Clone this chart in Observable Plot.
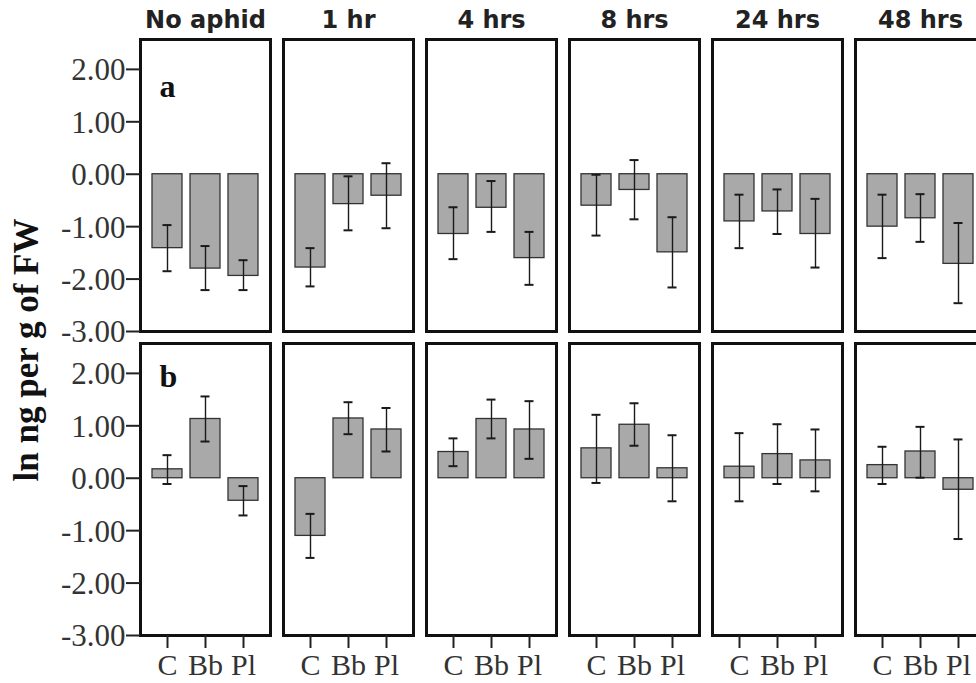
<!DOCTYPE html>
<html>
<head>
<meta charset="utf-8">
<script src="https://cdn.jsdelivr.net/npm/d3@7"></script>
<script src="https://cdn.jsdelivr.net/npm/@observablehq/plot@0.6"></script>
<style>
  html, body { margin: 0; padding: 0; background: #fff; overflow: hidden; width: 976px; height: 683px; }
  #chart { position: relative; width: 976px; height: 683px; overflow: hidden; }
  #chart svg { max-width: none !important; width: 990px !important; height: 683px !important; display: block; }
</style>
</head>
<body>
<div id="chart"></div>
<script>
// Facet columns (time after aphid exposure), treatments, rows
const times = ["No aphid", "1 hr", "4 hrs", "8 hrs", "24 hrs", "48 hrs"];
const treatments = ["C", "Bb", "Pl"];
const rows = ["a", "b"];
const yTicks = [-3, -2, -1, 0, 1, 2];
const yLabel = "ln ng per g of FW";

// Row a: means and error-bar ends, ordered time x treatment (C, Bb, Pl)
const aMean = [-1.41, -1.80, -1.94,  -1.78, -0.57, -0.41,  -1.14, -0.64, -1.60,  -0.60, -0.30, -1.49,  -0.90, -0.71, -1.14,  -1.00, -0.84, -1.71];
const aHigh = [-0.97, -1.37, -1.64,  -1.41, -0.04,  0.21,  -0.63, -0.13, -1.10,  -0.01,  0.27, -0.82,  -0.39, -0.29, -0.47,  -0.39, -0.38, -0.93];
const aLow  = [-1.85, -2.21, -2.21,  -2.14, -1.07, -1.03,  -1.62, -1.10, -2.11,  -1.17, -0.86, -2.16,  -1.41, -1.14, -1.78,  -1.60, -1.29, -2.46];

// Row b
const bMean = [ 0.17,  1.13, -0.43,  -1.10,  1.14,  0.93,   0.50,  1.13,  0.93,   0.57,  1.02,  0.19,   0.22,  0.46,  0.34,   0.25,  0.51, -0.22];
const bHigh = [ 0.44,  1.56, -0.15,  -0.68,  1.45,  1.34,   0.76,  1.50,  1.47,   1.21,  1.43,  0.82,   0.86,  1.03,  0.93,   0.60,  0.98,  0.74];
const bLow  = [-0.11,  0.70, -0.71,  -1.52,  0.84,  0.51,   0.23,  0.76,  0.37,  -0.09,  0.62, -0.44,  -0.44, -0.11, -0.25,  -0.11,  0.01, -1.16];

function build(row, mean, high, low) {
  const out = [];
  times.forEach((t, i) => treatments.forEach((c, j) => {
    const k = i * treatments.length + j;
    out.push({row, time: t, trt: c, mean: mean[k], hi: high[k], lo: low[k]});
  }));
  return out;
}
const data = [...build("a", aMean, aHigh, aLow), ...build("b", bMean, bHigh, bLow)];
// y tick labels for the left column of each row
const yTickData = rows.flatMap(r => yTicks.map(v => ({row: r, v})));
// x tick labels for the bottom row of each column
const xTickData = times.flatMap(t => treatments.map(c => ({time: t, trt: c})));

const serif = "'Liberation Serif', Tinos, 'Times New Roman', 'DejaVu Serif', serif";
const sans = "'DejaVu Sans', sans-serif";
const common = {fx: "time", fy: "row", x: "trt"};

const plot = Plot.plot({
  width: 990,
  height: 683,
  marginLeft: 139,
  marginRight: 4.5,
  marginTop: 38,
  marginBottom: 47,
  style: {background: "#fff", color: "#222", maxWidth: "none"},
  fx: {domain: times, paddingInner: 0.088, paddingOuter: 0, axis: null},
  fy: {domain: rows, paddingInner: 0.038, paddingOuter: 0, axis: null},
  x: {domain: treatments, paddingInner: 0.22, paddingOuter: 0.305, axis: null},
  y: {domain: [-3, 2.57], axis: null},
  marks: [
    Plot.barY(data, {...common, y: "mean", fill: "#a9a9a9", stroke: "#333", strokeWidth: 1.3}),
    Plot.ruleX(data, {...common, y1: "lo", y2: "hi", stroke: "#1a1a1a", strokeWidth: 1.4}),
    Plot.tickY(data, {...common, y: "hi", stroke: "#1a1a1a", strokeWidth: 2, insetLeft: 10.5, insetRight: 10.5}),
    Plot.tickY(data, {...common, y: "lo", stroke: "#1a1a1a", strokeWidth: 2, insetLeft: 10.5, insetRight: 10.5}),
    Plot.frame({stroke: "#111", strokeWidth: 3}),
    // tick lines from the library axes (labels drawn below as text marks)
    Plot.axisY({ticks: yTicks, tickFormat: () => "", tickSize: 14, stroke: "#222", strokeWidth: 2, label: null}),
    Plot.axisX({anchor: "bottom", tickFormat: () => "", tickSize: 13, stroke: "#222", strokeWidth: 2, label: null}),
    // tick labels
    Plot.text(yTickData, {fx: () => times[0], fy: "row", y: "v", text: d => d.v.toFixed(2),
      frameAnchor: "left", textAnchor: "end", dx: -15, dy: 1, fontSize: 31, fontWeight: 400, fontFamily: serif, fill: "#333"}),
    Plot.text(xTickData, {fx: "time", fy: () => rows[1], x: "trt", text: "trt",
      frameAnchor: "bottom", lineAnchor: "top", dy: 18, fontSize: 30, fontWeight: 400, fontFamily: serif, fill: "#333"}),
    // facet titles
    Plot.axisFx({anchor: "top", tickSize: 0, tickPadding: 12, fontSize: 24,
      fontWeight: "bold", fontFamily: sans, fill: "#222", label: null}),
    Plot.text(["a"], {fx: () => times[0], fy: () => "a", text: d => d, frameAnchor: "top-left",
      dx: 19, dy: 35, lineAnchor: "top", textAnchor: "start", fontSize: 32, fontWeight: "bold", fontFamily: serif, fill: "#111"}),
    Plot.text(["b"], {fx: () => times[0], fy: () => "b", text: d => d, frameAnchor: "top-left",
      dx: 19, dy: 21, lineAnchor: "top", textAnchor: "start", fontSize: 32, fontWeight: "bold", fontFamily: serif, fill: "#111"})
  ]
});

document.getElementById("chart").appendChild(plot);

// Rotated y-axis title
d3.select(plot).append("text")
  .attr("transform", "translate(38,350) rotate(-90)")
  .attr("text-anchor", "middle")
  .style("font-family", serif)
  .attr("font-weight", "bold")
  .attr("font-size", 35)
  .attr("fill", "#111")
  .text(yLabel);
</script>
</body>
</html>
